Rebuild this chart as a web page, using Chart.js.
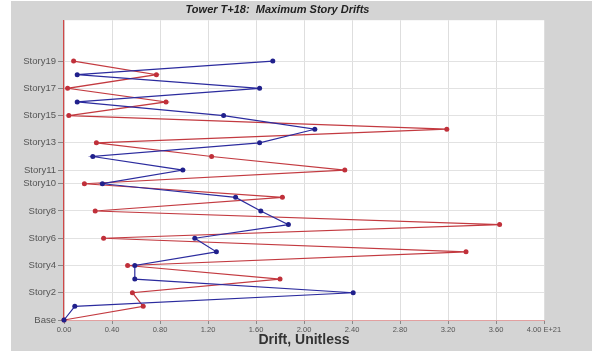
<!DOCTYPE html>
<html>
<head>
<meta charset="utf-8">
<script src="https://cdn.jsdelivr.net/npm/chart.js@4/dist/chart.umd.min.js"></script>
<style>
  html, body { margin: 0; padding: 0; background: #fff; }
  #wrap { width: 592px; height: 351px; }
</style>
</head>
<body>
<div id="wrap"><canvas id="drifts" width="592" height="351"></canvas></div>
<script>
// story levels, Base = 0
const levels = [0, 1, 2, 3, 4, 5, 6, 7, 8, 9, 10, 11, 12, 13, 14, 15, 16, 17, 18, 19];
const levelTicks = [0, 2, 4, 6, 8, 10, 11, 13, 15, 17, 19];
const levelNames = ['Base', 'Story2', 'Story4', 'Story6', 'Story8', 'Story10', 'Story11', 'Story13', 'Story15', 'Story17', 'Story19'];

// drift per level, two runs
const blueDrift = [0, 0.09, 2.41, 0.59, 0.59, 1.27, 1.09, 1.87, 1.64, 1.43, 0.32, 0.99, 0.24, 1.63, 2.09, 1.33, 0.11, 1.63, 0.11, 1.74];
const redDrift = [0, 0.66, 0.57, 1.80, 0.53, 3.35, 0.33, 3.63, 0.26, 1.82, 0.17, 2.34, 1.23, 0.27, 3.19, 0.04, 0.85, 0.03, 0.77, 0.08];

const FONT = '"Liberation Sans", Arial, sans-serif';

function pts(vals) {
  return levels.map((lv, i) => ({ x: vals[i], y: lv }));
}

// grey panel behind everything, white plot area
const panel = {
  id: 'panel',
  beforeDraw(chart) {
    const { ctx, chartArea: a } = chart;
    ctx.save();
    ctx.fillStyle = '#fff';
    ctx.fillRect(0, 0, chart.width, chart.height);
    ctx.fillStyle = '#d4d4d4';
    ctx.fillRect(11, 1, chart.width - 11, chart.height - 1);
    ctx.fillStyle = '#fff';
    ctx.fillRect(a.left, a.top, a.right - a.left, a.bottom - a.top);
    ctx.restore();
  }
};

new Chart(document.getElementById('drifts'), {
  type: 'scatter',
  data: {
    datasets: [
      {
        label: 'blue',
        data: pts(blueDrift),
        showLine: true,
        borderColor: '#2b2b9e',
        backgroundColor: '#20208c',
        borderWidth: 1.2,
        pointRadius: 2.5,
        pointBorderWidth: 0,
        clip: false
      },
      {
        label: 'red',
        data: pts(redDrift),
        showLine: true,
        borderColor: '#c33a40',
        backgroundColor: '#c0303a',
        borderWidth: 1.2,
        pointRadius: 2.5,
        pointBorderWidth: 0,
        clip: false
      }
    ]
  },
  options: {
    responsive: false,
    animation: false,
    layout: { padding: { left: 11, right: 48, top: 0, bottom: 0 } },
    plugins: {
      legend: { display: false },
      tooltip: { enabled: false },
      title: {
        display: true,
        text: 'Tower T+18:  Maximum Story Drifts',
        color: '#222',
        font: { family: FONT, size: 11, weight: 'bold', style: 'italic' },
        padding: { top: 3, bottom: 4 }
      }
    },
    scales: {
      x: {
        type: 'linear',
        min: 0,
        max: 4,
        afterFit(s) { s.height = 31; },
        border: { color: '#e2a0a0', width: 1 },
        grid: { color: '#dedede', lineWidth: 1, tickLength: 4, tickColor: '#888' },
        ticks: {
          stepSize: 0.4,
          padding: 1,
          color: '#555',
          font: { family: FONT, size: 7.5 },
          callback(v) { return v >= 3.99 ? '4.00 E+21' : v.toFixed(2); }
        },
        title: {
          display: true,
          text: 'Drift, Unitless',
          color: '#333',
          font: { family: FONT, size: 14, weight: 'bold' },
          padding: { top: 0, bottom: 2 }
        }
      },
      y: {
        type: 'linear',
        min: 0,
        max: 22,
        afterFit(s) { s.width = 53; },
        afterBuildTicks(s) { s.ticks = levelTicks.map(v => ({ value: v })); },
        border: { color: '#d04848', width: 1.2 },
        grid: { color: '#e2e2e2', lineWidth: 1, tickLength: 6, tickColor: '#888' },
        ticks: {
          padding: 2,
          color: '#555',
          font: { family: FONT, size: 9.5 },
          callback(v) {
            const i = levelTicks.indexOf(v);
            return i >= 0 ? levelNames[i] : '';
          }
        }
      }
    }
  },
  plugins: [panel]
});
</script>
</body>
</html>
